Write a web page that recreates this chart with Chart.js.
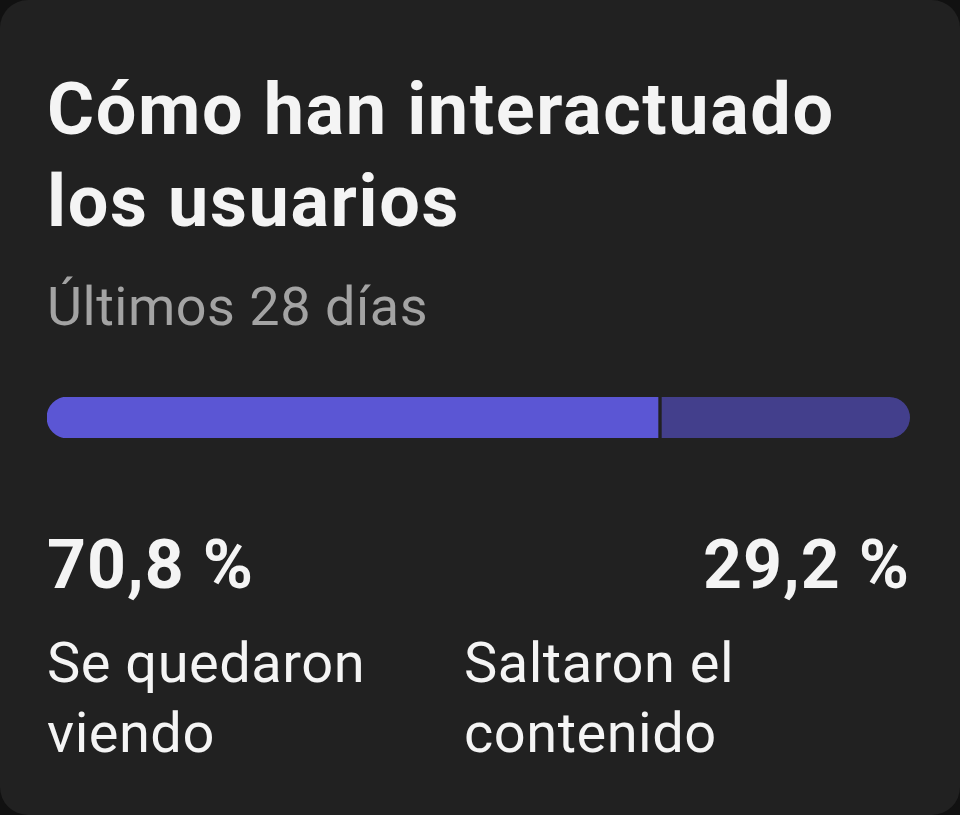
<!DOCTYPE html>
<html lang="es">
<head>
<meta charset="UTF-8">
<title>Cómo han interactuado los usuarios</title>
<script src="https://cdn.jsdelivr.net/npm/chart.js"></script>
<style>
  html, body { margin: 0; background: #111; }
  .card { position: relative; width: 960px; height: 815px; background: #212121; border-radius: 28px; font-family: Roboto, sans-serif; color: #f4f4f4; overflow: hidden; }
  .t { position: absolute; white-space: nowrap; }
  h1 { position: absolute; left: 47px; top: 64px; margin: 0; font-size: 72px; line-height: 92px; font-weight: 700; letter-spacing: 1.6px; }
  .sub { left: 47px; top: 275px; font-size: 54px; color: #a3a3a3; letter-spacing: 0.5px; }
  .bar { position: absolute; left: 47px; top: 397px; width: 863px; height: 41px; }
  .pct { top: 525px; font-size: 68px; font-weight: 700; letter-spacing: 1px; }
  .lbl { top: 628px; font-size: 56px; line-height: 70px; white-space: nowrap; letter-spacing: 0.5px; }
</style>
</head>
<body>
<div class="card">
  <h1>Cómo han interactuado<br>los usuarios</h1>
  <div class="t sub">Últimos 28 días</div>
  <div class="bar"><canvas id="c"></canvas></div>
  <div class="t pct" id="p0" style="left:47px"></div>
  <div class="t pct" id="p1" style="right:50px"></div>
  <div class="t lbl" id="l0" style="left:47px"></div>
  <div class="t lbl" id="l1" style="left:464px"></div>
</div>
<script>
const labels = ['Se quedaron<br>viendo', 'Saltaron el<br>contenido'];
const values = [70.8, 29.2];
const colors = ['#5b56d4', '#433f8c'];

values.forEach((v, i) => {
  document.getElementById('p' + i).textContent = v.toFixed(1).replace('.', ',') + ' %';
  document.getElementById('l' + i).innerHTML = labels[i];
});

// floating segments: [start, end] built from the values
let acc = 0;
const segments = values.map(v => { const s = [acc, acc + v]; acc += v; return s; });

new Chart(document.getElementById('c'), {
  type: 'bar',
  data: {
    labels: [''],
    datasets: segments.map((s, i) => ({
      data: [s],
      backgroundColor: colors[i],
      borderColor: '#212121',
      borderWidth: i === 1 ? { left: 4, top: 0, right: 0, bottom: 0 } : 0,
      borderRadius: i === 0
        ? { topLeft: 21, bottomLeft: 21, topRight: 0, bottomRight: 0 }
        : { topLeft: 0, bottomLeft: 0, topRight: 21, bottomRight: 21 },
      borderSkipped: false,
      barPercentage: 1,
      categoryPercentage: 1,
      grouped: false
    }))
  },
  options: {
    indexAxis: 'y',
    responsive: true,
    maintainAspectRatio: false,
    animation: false,
    layout: { padding: 0 },
    plugins: { legend: { display: false }, tooltip: { enabled: false } },
    scales: {
      x: { min: 0, max: 100, display: false },
      y: { display: false }
    }
  }
});
</script>
</body>
</html>
